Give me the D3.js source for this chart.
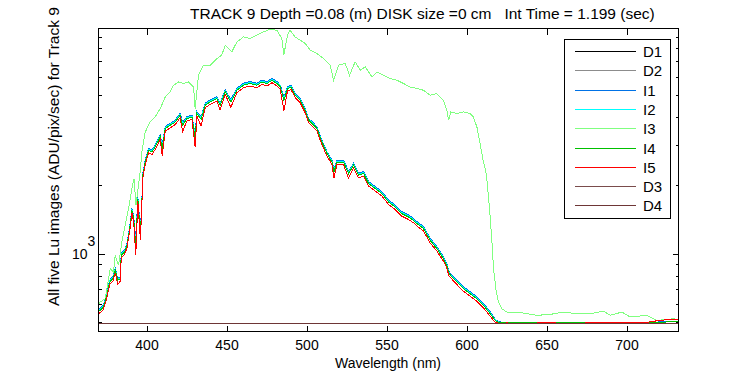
<!DOCTYPE html>
<html>
<head>
<meta charset="utf-8">
<script src="https://cdn.jsdelivr.net/npm/d3@7"></script>
<style>
  body { margin: 0; background: #fff; }
  svg { display: block; font-family: "Liberation Sans", Arial, sans-serif; }
</style>
</head>
<body>
<script>
// wavelengths (nm) for the five light images / four dark images
const wlMain = [370, 371, 373, 375, 377, 379, 380.5, 382, 383.6, 384.2,
  386.3, 387.8, 388.8, 389.8, 390.9, 392, 393.3, 394.6, 396.2, 397.1,
  397.7, 399.2, 401.3, 403.4, 405.4, 408.6, 409.8, 411.7, 414.8, 418,
  421, 422.6, 425.2, 428.4, 430.4, 431.5, 434.1, 436.7, 439.8, 444,
  446, 449.2, 452.7, 456.5, 460.6, 464.8, 469, 472.1, 475.3, 478.4,
  481.5, 483.6, 485.9, 488.1, 490.3, 493, 496, 499.2, 501.3, 503.4,
  506.5, 509.6, 512.8, 515.9, 517.2, 519, 523.1, 526.3, 529.4, 532.5,
  535.7, 538.8, 543, 547.1, 551.3, 555.4, 559.6, 563.8, 566.9, 569,
  573.2, 577.3, 581.5, 585.6, 587.7, 589, 594, 598.1, 602.3, 606.5,
  610.6, 614.8, 617.9, 620,
  625, 635, 645, 655, 665, 675, 685, 695, 705, 715, 720, 725, 733];

const I1 = [571, 576, 596, 659, 767, 794, 863, 780, 794, 1005,
  1038, 1112, 1230, 1361, 1584, 1457, 1150, 1783, 1260, 1723,
  2257, 2583, 2908, 2858, 3006, 3326, 3000, 3621, 3744, 3872,
  4144, 3780, 4008, 4073, 3330, 4216, 4000, 4585, 4741, 4906,
  4600, 5246, 4760, 5337, 5614, 5712, 5614, 5805, 5712, 5906,
  5712, 5518, 4880, 5429, 5518, 5073, 4824, 4358, 3939, 3810,
  3621, 3162, 2812, 2583, 2360, 2583, 2583, 2310, 2498, 2257,
  2297, 2076, 1974, 1876, 1723, 1638, 1532, 1480, 1432, 1385,
  1316, 1169, 1075, 972, 908, 836, 767, 717, 681, 648,
  606, 557, 516, 503,
  500, 499, 501, 500, 499, 500, 501, 499, 500, 501, 502, 503, 504];

const I2 = [565, 570, 590, 652, 760, 786, 854, 772, 786, 995,
  1028, 1101, 1218, 1347, 1568, 1442, 1120, 1765, 1230, 1706,
  2235, 2557, 2880, 2830, 2976, 3294, 2950, 3585, 3707, 3834,
  4104, 3720, 3968, 4033, 3270, 4174, 3950, 4540, 4694, 4858,
  4550, 5194, 4700, 5284, 5559, 5656, 5559, 5748, 5656, 5848,
  5656, 5464, 4800, 5376, 5464, 5024, 4776, 4316, 3900, 3772,
  3585, 3131, 2785, 2557, 2320, 2557, 2557, 2280, 2473, 2235,
  2275, 2055, 1954, 1857, 1706, 1622, 1517, 1465, 1418, 1372,
  1303, 1157, 1065, 962, 899, 828, 760, 710, 675, 641,
  600, 551, 513, 502,
  501, 500, 499, 501, 500, 499, 500, 501, 499, 500, 501, 502, 503];

const I4 = [560, 565, 584, 646, 752, 778, 846, 765, 778, 985,
  1018, 1090, 1206, 1334, 1553, 1428, 1090, 1748, 1206, 1689,
  2213, 2532, 2851, 2802, 2947, 3261, 2900, 3550, 3671, 3796,
  4063, 3671, 3929, 3993, 3209, 4133, 3900, 4495, 4648, 4810,
  4495, 5143, 4648, 5232, 5504, 5600, 5504, 5691, 5600, 5790,
  5600, 5410, 4729, 5323, 5410, 4974, 4729, 4273, 3862, 3735,
  3550, 3100, 2757, 2532, 2288, 2532, 2532, 2252, 2449, 2213,
  2252, 2035, 1935, 1839, 1689, 1606, 1502, 1451, 1404, 1358,
  1290, 1146, 1054, 953, 890, 820, 752, 703, 668, 635,
  594, 546, 510, 501,
  499, 500, 499, 498, 500, 499, 500, 499, 500, 499, 501, 502, 503];

const I5 = [548, 551, 569, 630, 733, 759, 825, 735, 758, 960,
  993, 1063, 1176, 1301, 1514, 1380, 985, 1704, 1150, 1647,
  2158, 2469, 2780, 2732, 2873, 3180, 2700, 3461, 3579, 3701,
  3961, 3450, 3831, 3893, 2950, 4030, 3650, 4383, 4532, 4690,
  4300, 5014, 4400, 5101, 5366, 5460, 5366, 5549, 5460, 5645,
  5460, 5275, 4250, 5190, 5275, 4850, 4611, 4166, 3765, 3642,
  3461, 3023, 2688, 2469, 2150, 2469, 2469, 2150, 2388, 2158,
  2196, 1984, 1887, 1793, 1647, 1566, 1464, 1415, 1369, 1324,
  1258, 1117, 1028, 929, 868, 800, 733, 685, 651, 619,
  579, 532, 500, 496,
  497, 496, 497, 497, 496, 497, 497, 497, 501, 502, 510, 513, 514];

// I3 has its own sampling
const wlI3 = [370, 371, 374.2, 377.3, 379.4, 380.4, 382.5, 384.6, 386.7, 388.8,
  390.9, 392.2, 393.4, 396, 397.1, 399.2, 402.3, 405.4, 408.6, 411.7,
  414.8, 416.9, 420, 423.1, 426.3, 429.4, 430.4, 432.5, 435.6, 439.8,
  444, 447, 449.2, 453.3, 456.5, 460.6, 464.8, 469, 473.1, 477.3,
  481.5, 484.6, 485.8, 488.1, 489.8, 492.9, 496, 499.2, 502.3, 506.5,
  510.6, 514.8, 516.9, 520, 524.2, 526.9, 530.4, 533.6, 536.7, 540.9,
  544, 548.2, 552.3, 556.5, 560.6, 564.8, 569, 573.1, 577.3, 581.4,
  585.6, 587.7, 588.8, 590.2, 594, 598.1, 602.3, 604.3, 606.5, 608.5,
  610.6, 612, 612.9, 614.4, 615.9, 616.9, 618.6, 620, 622.1, 625.2,
  631.4, 637.7, 643.9, 652.3, 660.6, 668.9, 679.3, 685.6, 689.8, 697.1,
  702.3, 712.7, 719, 729.4, 733];

const I3 = [600, 614, 635, 861, 832, 985, 890, 1127, 1334, 1580,
  1935, 2141, 1634, 2288, 2802, 3430, 3796, 3993, 4348, 4889,
  5143, 5504, 5691, 5600, 5691, 5410, 4348, 6090, 6738, 6738,
  7211, 7456, 8250, 7710, 8530, 8973, 8830, 9130, 9440, 9700,
  9600, 8830, 7456, 9130, 9600, 8973, 8680, 8394, 7843, 7585,
  7211, 6738, 5790, 6738, 6855, 6090, 6967, 6406, 6623, 5986,
  6297, 6090, 5890, 5790, 5600, 5410, 5323, 5232, 4974, 5060,
  4729, 4273, 3862, 4200, 4133, 4200, 4133, 3993, 3609, 3050,
  2525, 2328, 2068, 1580, 1127, 861, 679, 614, 574, 555,
  555, 546, 537, 542, 555, 546, 549, 560, 537, 555,
  528, 537, 510, 519, 510];

const wlDark = [370, 430, 490, 550, 610, 670, 733];
const D1 = [492, 493, 492, 492, 493, 492, 492];
const D2 = [493, 492, 493, 493, 492, 493, 493];
const D3 = [493, 493, 492, 493, 493, 492, 493];
const D4 = [492, 493, 493, 492, 493, 493, 492];

const xTicks = [400, 450, 500, 550, 600, 650, 700];
const yMinor = [500, 600, 700, 800, 900, 2000, 3000, 4000, 5000, 6000, 7000, 8000, 9000];
const yMajor = [1000];

const titleText = 'TRACK 9 Depth =0.08 (m) DISK size =0 cm   Int Time = 1.199 (sec)';
const xLabel = 'Wavelength (nm)';
const yLabel = 'All five Lu images (ADU/pix/sec) for Track 9';

// order in which they are drawn (and listed in the legend)
const series = [
  { name: 'D1', wl: wlDark, v: D1, color: '#000000' },
  { name: 'D2', wl: wlDark, v: D2, color: '#8c8c8c' },
  { name: 'I1', wl: wlMain, v: I1, color: '#0072e6' },
  { name: 'I2', wl: wlMain, v: I2, color: '#00ffff' },
  { name: 'I3', wl: wlI3, v: I3, color: '#80ff80' },
  { name: 'I4', wl: wlMain, v: I4, color: '#00c000' },
  { name: 'I5', wl: wlMain, v: I5, color: '#ff0000' },
  { name: 'D3', wl: wlDark, v: D3, color: '#7a4c4c' },
  { name: 'D4', wl: wlDark, v: D4, color: '#6e3636' }
];

const width = 750, height = 375;
const pL = 98, pR = 678, pT = 28, pB = 331;

const svg = d3.select('body').append('svg')
  .attr('width', width)
  .attr('height', height);

const x = d3.scaleLinear().domain([370, 732.5]).range([pL + 0.5, pR + 0.5]);
const y = d3.scaleLog().domain([456, 9770]).range([pB + 0.5, pT + 0.5]);

svg.append('clipPath').attr('id', 'clip')
  .append('rect')
  .attr('x', pL).attr('y', pT)
  .attr('width', pR - pL + 1).attr('height', pB - pT + 1);

const line = d3.line().x(d => x(d[0])).y(d => y(d[1]));

svg.append('g').attr('clip-path', 'url(#clip)')
  .selectAll('path')
  .data(series)
  .enter()
  .append('path')
  .attr('d', s => line(d3.zip(s.wl, s.v)))
  .attr('fill', 'none')
  .attr('stroke', s => s.color)
  .attr('stroke-width', 1)
  .attr('shape-rendering', 'crispEdges');

// axes: ticks point inwards on all four sides
function styleAxis(g) {
  g.select('.domain').remove();
  g.selectAll('line').attr('stroke', '#000').attr('shape-rendering', 'crispEdges');
  g.selectAll('text').attr('fill', '#000').attr('font-size', 14)
    .attr('font-family', '"Liberation Sans", Arial, sans-serif');
}

svg.append('g')
  .attr('transform', `translate(0,${pB + 0.5})`)
  .call(d3.axisBottom(x).tickValues(xTicks).tickSizeInner(-6).tickSizeOuter(0).tickPadding(9).tickFormat(d3.format('d')))
  .call(styleAxis);

svg.append('g')
  .attr('transform', `translate(0,${pT + 0.5})`)
  .call(d3.axisTop(x).tickValues(xTicks).tickSizeInner(-6).tickSizeOuter(0).tickFormat(''))
  .call(styleAxis);

[[d3.axisLeft, pL + 0.5], [d3.axisRight, pR + 0.5]].forEach(([ax, px]) => {
  svg.append('g')
    .attr('transform', `translate(${px},0)`)
    .call(ax(y).tickValues(yMinor).tickSizeInner(-3).tickSizeOuter(0).tickFormat(''))
    .call(styleAxis);
  svg.append('g')
    .attr('transform', `translate(${px},0)`)
    .call(ax(y).tickValues(yMajor).tickSizeInner(-6).tickSizeOuter(0).tickFormat(''))
    .call(styleAxis);
});

// 10^3 label
const yl = svg.append('text')
  .attr('x', pL - 26).attr('y', y(1000) + 5)
  .attr('font-size', 14).attr('fill', '#000');
yl.append('tspan').text('10');
yl.append('tspan').attr('dy', -13).attr('font-size', 14).text(Math.log10(yMajor[0]));

// box
svg.append('rect')
  .attr('x', pL + 0.5).attr('y', pT + 0.5)
  .attr('width', pR - pL).attr('height', pB - pT)
  .attr('fill', 'none').attr('stroke', '#000')
  .attr('shape-rendering', 'crispEdges');

// title and labels
svg.append('text')
  .attr('x', 190).attr('y', 19)
  .attr('font-size', 15.5)
  .style('white-space', 'pre')
  .text(titleText);

svg.append('text')
  .attr('x', (pL + pR) / 2).attr('y', 368)
  .attr('text-anchor', 'middle').attr('font-size', 14)
  .text(xLabel);

svg.append('text')
  .attr('transform', 'translate(59,306) rotate(-90)')
  .attr('font-size', 15.5)
  .text(yLabel);

// legend
const legend = svg.append('g');
legend.append('rect')
  .attr('x', 564.5).attr('y', 39.5)
  .attr('width', 106).attr('height', 179)
  .attr('fill', '#fff').attr('stroke', '#000')
  .attr('shape-rendering', 'crispEdges');

const rows = legend.selectAll('g.row')
  .data(series)
  .enter()
  .append('g')
  .attr('class', 'row')
  .attr('transform', (d, i) => `translate(0,${Math.round(51 + i * 19.3) + 0.5})`);

rows.append('line')
  .attr('x1', 575).attr('x2', 636)
  .attr('stroke', d => d.color)
  .attr('shape-rendering', 'crispEdges');

rows.append('text')
  .attr('x', 643).attr('y', 5.5)
  .attr('font-size', 15)
  .text(d => d.name);
</script>
</body>
</html>
